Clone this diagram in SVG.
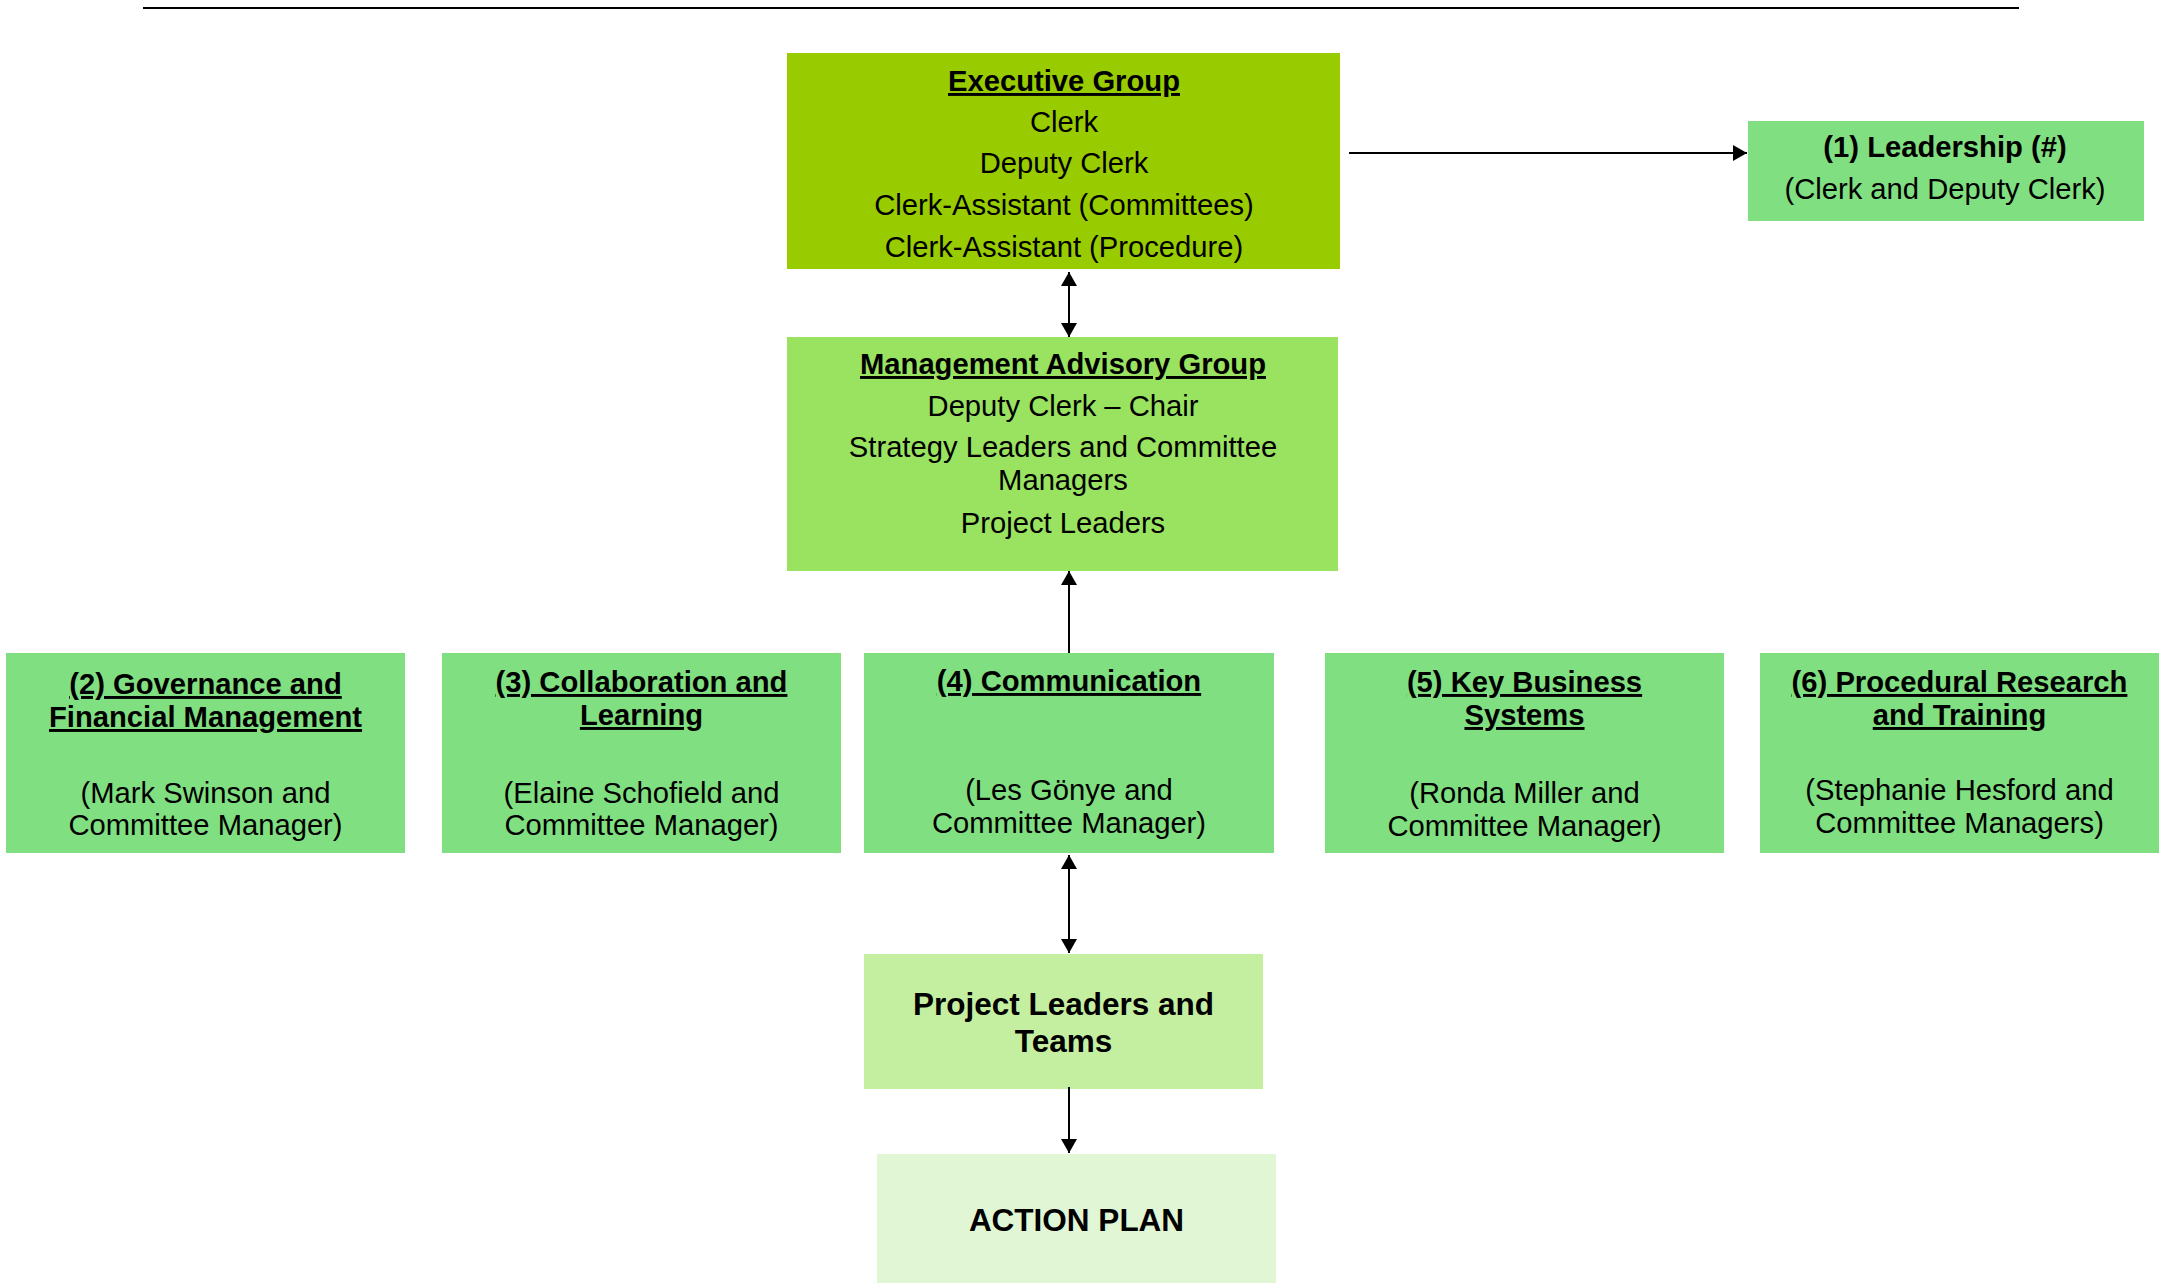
<svg xmlns="http://www.w3.org/2000/svg" width="2159" height="1287" viewBox="0 0 2159 1287">
  <style>
    text { font-family: "Liberation Sans", Arial, sans-serif; font-size: 29.2px; fill: #000; text-anchor: middle; }
    .b { font-weight: bold; }
    .u { font-weight: bold; text-decoration: underline; text-decoration-thickness: 3px; text-decoration-skip-ink: none; }
    .big { font-size: 31.5px; font-weight: bold; }
    .conn { stroke: #000; stroke-width: 2; fill: none; }
    .exec { fill: #99CC00; }
    .mag { fill: #99E361; }
    .strat { fill: #80DF80; }
    .plt { fill: #C4EFA1; }
    .act { fill: #E0F6D4; }
  </style>
  <defs>
    <marker id="ah" viewBox="0 0 14 16" refX="14" refY="8" markerWidth="14" markerHeight="16" markerUnits="userSpaceOnUse" orient="auto-start-reverse">
      <path d="M0,0 L14,8 L0,16 Z" fill="#000"/>
    </marker>
  </defs>
  <rect width="2159" height="1287" fill="#fff"/>
  <line x1="143" y1="8" x2="2019" y2="8" stroke="#000" stroke-width="2"/>

  <g id="executive-group">
    <rect class="exec" x="787" y="53" width="553" height="216"/>
    <text class="u" x="1064" y="91">Executive Group</text>
    <text x="1064" y="132">Clerk</text>
    <text x="1064" y="173">Deputy Clerk</text>
    <text x="1064" y="215">Clerk-Assistant (Committees)</text>
    <text x="1064" y="257">Clerk-Assistant (Procedure)</text>
  </g>

  <g id="leadership">
    <rect class="strat" x="1748" y="121" width="396" height="100"/>
    <text class="b" x="1945" y="157">(1) Leadership (#)</text>
    <text x="1945" y="199">(Clerk and Deputy Clerk)</text>
  </g>

  <g id="management-advisory-group">
    <rect class="mag" x="787" y="337" width="551" height="234"/>
    <text class="u" x="1063" y="374">Management Advisory Group</text>
    <text x="1063" y="416">Deputy Clerk – Chair</text>
    <text x="1063" y="457">Strategy Leaders and Committee</text>
    <text x="1063" y="490">Managers</text>
    <text x="1063" y="533">Project Leaders</text>
  </g>

  <g id="governance">
    <rect class="strat" x="6" y="653" width="399" height="200"/>
    <text class="u" x="205.5" y="694">(2) Governance and</text>
    <text class="u" x="205.5" y="727">Financial Management</text>
    <text x="205.5" y="803">(Mark Swinson and</text>
    <text x="205.5" y="835">Committee Manager)</text>
  </g>

  <g id="collaboration">
    <rect class="strat" x="442" y="653" width="399" height="200"/>
    <text class="u" x="641.5" y="692">(3) Collaboration and</text>
    <text class="u" x="641.5" y="725">Learning</text>
    <text x="641.5" y="803">(Elaine Schofield and</text>
    <text x="641.5" y="835">Committee Manager)</text>
  </g>

  <g id="communication">
    <rect class="strat" x="864" y="653" width="410" height="200"/>
    <text class="u" x="1069" y="691">(4) Communication</text>
    <text x="1069" y="800">(Les Gönye and</text>
    <text x="1069" y="833">Committee Manager)</text>
  </g>

  <g id="key-business-systems">
    <rect class="strat" x="1325" y="653" width="399" height="200"/>
    <text class="u" x="1524.5" y="692">(5) Key Business</text>
    <text class="u" x="1524.5" y="725">Systems</text>
    <text x="1524.5" y="803">(Ronda Miller and</text>
    <text x="1524.5" y="836">Committee Manager)</text>
  </g>

  <g id="procedural-research">
    <rect class="strat" x="1760" y="653" width="399" height="200"/>
    <text class="u" x="1959.5" y="692">(6) Procedural Research</text>
    <text class="u" x="1959.5" y="725">and Training</text>
    <text x="1959.5" y="800">(Stephanie Hesford and</text>
    <text x="1959.5" y="833">Committee Managers)</text>
  </g>

  <g id="project-leaders-teams">
    <rect class="plt" x="864" y="954" width="399" height="135"/>
    <text class="big" x="1063.5" y="1015">Project Leaders and</text>
    <text class="big" x="1063.5" y="1052">Teams</text>
  </g>

  <g id="action-plan">
    <rect class="act" x="877" y="1154" width="399" height="129"/>
    <text class="big" x="1076.5" y="1231">ACTION PLAN</text>
  </g>

  <g id="connectors">
    <line class="conn" x1="1349" y1="153" x2="1747" y2="153" marker-end="url(#ah)"/>
    <line class="conn" x1="1069" y1="272" x2="1069" y2="337" marker-start="url(#ah)" marker-end="url(#ah)"/>
    <line class="conn" x1="1069" y1="653" x2="1069" y2="571" marker-end="url(#ah)"/>
    <line class="conn" x1="1069" y1="855" x2="1069" y2="953" marker-start="url(#ah)" marker-end="url(#ah)"/>
    <line class="conn" x1="1069" y1="1087" x2="1069" y2="1153" marker-end="url(#ah)"/>
  </g>
</svg>
